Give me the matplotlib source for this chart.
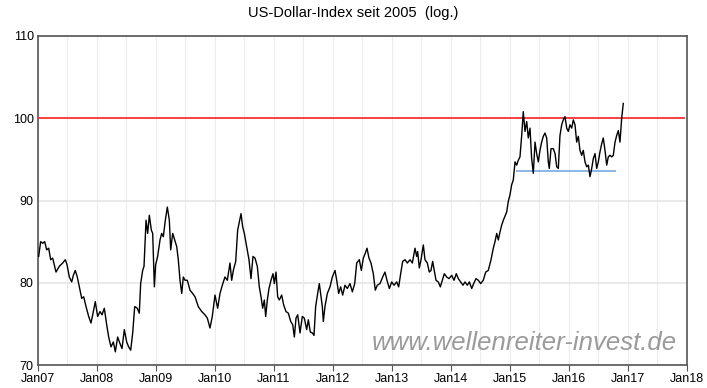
import matplotlib
matplotlib.use("Agg")
import matplotlib.pyplot as plt
from matplotlib.ticker import MultipleLocator, FixedLocator

# decimal-year time stamps and index values
t = [2007.011, 2007.045, 2007.079, 2007.113, 2007.147, 2007.181, 2007.215, 2007.249,
     2007.305, 2007.361, 2007.418, 2007.463, 2007.492, 2007.531, 2007.571, 2007.599,
     2007.632, 2007.666, 2007.700, 2007.741, 2007.774, 2007.814, 2007.859, 2007.898,
     2007.927, 2007.971, 2008.011, 2008.051, 2008.085, 2008.124, 2008.164, 2008.198,
     2008.237, 2008.277, 2008.311, 2008.350, 2008.390, 2008.424, 2008.463, 2008.503,
     2008.537, 2008.571, 2008.605, 2008.639, 2008.683, 2008.717, 2008.740, 2008.774,
     2008.797, 2008.831, 2008.859, 2008.887, 2008.921, 2008.944, 2008.972, 2008.994,
     2009.028, 2009.068, 2009.096, 2009.124, 2009.158, 2009.192, 2009.226, 2009.249,
     2009.283, 2009.317, 2009.351, 2009.378, 2009.407, 2009.436, 2009.463, 2009.492,
     2009.531, 2009.576, 2009.621, 2009.661, 2009.717, 2009.775, 2009.830, 2009.870,
     2009.915, 2009.954, 2010.000, 2010.045, 2010.085, 2010.124, 2010.169, 2010.209,
     2010.254, 2010.283, 2010.311, 2010.351, 2010.384, 2010.407, 2010.441, 2010.469,
     2010.497, 2010.537, 2010.576, 2010.610, 2010.644, 2010.678, 2010.717, 2010.751,
     2010.780, 2010.808, 2010.836, 2010.859, 2010.887, 2010.915, 2010.949, 2010.983,
     2011.006, 2011.034, 2011.062, 2011.090, 2011.130, 2011.164, 2011.203, 2011.243,
     2011.283, 2011.317, 2011.345, 2011.373, 2011.402, 2011.441, 2011.480, 2011.514,
     2011.554, 2011.582, 2011.616, 2011.650, 2011.678, 2011.706, 2011.740, 2011.768,
     2011.797, 2011.819, 2011.836, 2011.864, 2011.904, 2011.949, 2011.989, 2012.034,
     2012.063, 2012.096, 2012.130, 2012.164, 2012.203, 2012.243, 2012.288, 2012.328,
     2012.368, 2012.402, 2012.446, 2012.480, 2012.514, 2012.548, 2012.576, 2012.610,
     2012.644, 2012.683, 2012.717, 2012.751, 2012.797, 2012.842, 2012.881, 2012.915,
     2012.955, 2012.995, 2013.034, 2013.080, 2013.113, 2013.147, 2013.181, 2013.220,
     2013.260, 2013.305, 2013.345, 2013.390, 2013.418, 2013.435, 2013.463, 2013.492,
     2013.531, 2013.559, 2013.599, 2013.632, 2013.661, 2013.689, 2013.717, 2013.746,
     2013.785, 2013.819, 2013.853, 2013.887, 2013.927, 2013.966, 2014.012, 2014.051,
     2014.090, 2014.124, 2014.164, 2014.203, 2014.237, 2014.277, 2014.311, 2014.351,
     2014.384, 2014.424, 2014.463, 2014.503, 2014.547, 2014.588, 2014.632, 2014.678,
     2014.717, 2014.746, 2014.775, 2014.802, 2014.831, 2014.859, 2014.887, 2014.944,
     2014.971, 2015.000, 2015.028, 2015.056, 2015.085, 2015.113, 2015.141, 2015.169,
     2015.198, 2015.225, 2015.254, 2015.283, 2015.310, 2015.339, 2015.367, 2015.395,
     2015.424, 2015.452, 2015.480, 2015.508, 2015.537, 2015.564, 2015.593, 2015.622,
     2015.649, 2015.666, 2015.695, 2015.734, 2015.763, 2015.792, 2015.819, 2015.847,
     2015.876, 2015.903, 2015.932, 2015.961, 2015.988, 2016.017, 2016.046, 2016.073,
     2016.102, 2016.130, 2016.158, 2016.186, 2016.215, 2016.242, 2016.271, 2016.300,
     2016.328, 2016.356, 2016.385, 2016.412, 2016.441, 2016.469, 2016.497, 2016.525,
     2016.554, 2016.581, 2016.610, 2016.639, 2016.666, 2016.695, 2016.724, 2016.751,
     2016.780, 2016.808, 2016.836, 2016.864, 2016.893, 2016.920]
usd = [83.2, 85.0, 84.8, 85.0, 84.0, 84.2, 82.8, 83.0,
       81.3, 82.0, 82.4, 82.8, 82.2, 80.7, 80.1, 80.9,
       81.5, 80.7, 79.5, 78.1, 78.3, 77.1, 75.9, 75.1,
       76.1, 77.7, 75.9, 76.5, 76.1, 76.9, 74.9, 73.4,
       72.2, 72.8, 71.6, 73.4, 72.6, 72.0, 74.3, 72.8,
       72.2, 71.8, 73.9, 77.1, 76.9, 76.3, 79.9, 81.5,
       82.0, 87.6, 86.0, 88.2, 86.4, 86.0, 79.5, 82.2,
       83.2, 85.2, 86.0, 85.6, 87.6, 89.2, 87.6, 84.0,
       86.0, 85.2, 84.4, 82.8, 80.3, 78.7, 80.7, 80.3,
       80.3, 79.1, 78.7, 78.3, 77.1, 76.5, 76.1, 75.7,
       74.5, 75.9, 78.5, 76.9, 78.7, 79.7, 80.7, 80.3,
       82.4, 80.3, 81.5, 82.6, 86.4, 87.2, 88.4, 86.8,
       86.0, 84.4, 82.8, 80.5, 83.2, 83.0, 82.0, 79.5,
       78.3, 76.9, 77.9, 75.9, 77.9, 79.3, 80.3, 81.1,
       79.9, 81.3, 78.3, 77.9, 78.5, 77.3, 76.5, 76.3,
       75.3, 74.9, 73.4, 75.7, 76.1, 73.9, 75.9, 75.7,
       74.3, 75.5, 74.0, 73.9, 73.6, 77.1, 78.7, 79.9,
       78.3, 77.1, 75.3, 77.1, 78.7, 79.5, 80.7, 81.5,
       80.3, 78.7, 79.5, 78.5, 79.7, 79.3, 79.9, 78.9,
       79.9, 82.4, 82.8, 81.5, 83.0, 83.6, 84.2, 83.0,
       82.4, 81.1, 79.1, 79.7, 79.9, 80.7, 81.3, 80.3,
       79.3, 80.1, 79.7, 80.1, 79.5, 81.1, 82.6, 82.8,
       82.4, 82.8, 82.4, 84.2, 83.2, 83.8, 81.8, 82.8,
       84.6, 82.8, 82.4, 81.3, 81.5, 82.6, 81.5, 80.3,
       80.1, 79.5, 80.3, 81.1, 80.7, 80.5, 80.9, 80.3,
       81.1, 80.5, 80.1, 79.7, 80.1, 79.7, 80.1, 79.3,
       79.9, 80.5, 80.3, 79.9, 80.3, 81.3, 81.5, 82.8,
       84.2, 85.0, 86.0, 85.2, 86.2, 87.0, 87.6, 88.6,
       89.9, 90.7, 91.9, 92.5, 94.7, 94.3, 94.9, 95.3,
       97.9, 100.8, 98.4, 99.6, 97.6, 98.8, 95.1, 93.3,
       97.1, 95.7, 94.7, 96.1, 97.1, 97.8, 98.2, 97.6,
       94.7, 93.9, 96.3, 96.3, 95.7, 94.1, 93.9, 97.9,
       99.2, 99.8, 100.2, 98.8, 98.4, 99.2, 98.8, 99.8,
       99.2, 97.1, 97.8, 96.1, 95.5, 96.1, 94.7, 94.1,
       94.3, 92.9, 93.9, 95.1, 95.7, 93.9, 94.7, 95.9,
       96.9, 97.6, 96.1, 94.3, 95.3, 95.5, 95.3, 95.5,
       97.1, 97.9, 98.5, 97.1, 100.0, 101.8]

resistance = 100.0
support = 93.6
support_span = [2015.097, 2016.802]

years = list(range(2007, 2019))
year_labels = ["Jan%02d" % (y % 100) for y in years]
y_ticks = [70, 80, 90, 100, 110]

fig = plt.figure(figsize=(7.07, 3.88), dpi=100)
ax = fig.add_axes([38/707, 23/388, 649/707, 329/388])

ax.set_xlim(2007, 2018)
ax.set_ylim(70, 110)

ax.xaxis.set_major_locator(FixedLocator(years))
ax.set_xticklabels(year_labels)
ax.xaxis.set_minor_locator(MultipleLocator(0.5))
ax.yaxis.set_major_locator(FixedLocator(y_ticks))
ax.set_yticklabels([str(v) for v in y_ticks])

ax.grid(True, which="both", axis="x", color="#ececec", linewidth=0.8)
ax.grid(True, which="major", axis="y", color="#e6e6e6", linewidth=1.2)
ax.set_axisbelow(True)

for s in ax.spines.values():
    s.set_color("#555555")
    s.set_linewidth(1.2)

ax.tick_params(axis="x", which="major", length=4, color="#555555", labelsize=9, pad=2)
ax.tick_params(axis="x", which="minor", length=0)
ax.tick_params(axis="y", which="major", length=0, labelsize=9, pad=3)
for lab in ax.get_xticklabels() + ax.get_yticklabels():
    lab.set_family(["Liberation Sans Narrow", "Liberation Sans", "DejaVu Sans"])

ax.axhline(resistance, color="#ff3030", linewidth=1.3, zorder=3, xmax=0.995)
ax.hlines(support, support_span[0], support_span[1], color="#7aaae0", linewidth=1.2, zorder=3)
ax.plot(t, usd, color="black", linewidth=1.0, zorder=4)

ax.text(0.985, 0.03, "www.wellenreiter-invest.de", transform=ax.transAxes,
        ha="right", va="bottom", fontsize=18.5, style="italic", color="#9a9a9a",
        family=["Liberation Sans", "DejaVu Sans"], zorder=5)

fig.suptitle("US-Dollar-Index seit 2005  (log.)", y=0.985, fontsize=10.5,
             family=["Liberation Sans Narrow", "Liberation Sans", "DejaVu Sans"])

fig.savefig("out.png", dpi=100)
